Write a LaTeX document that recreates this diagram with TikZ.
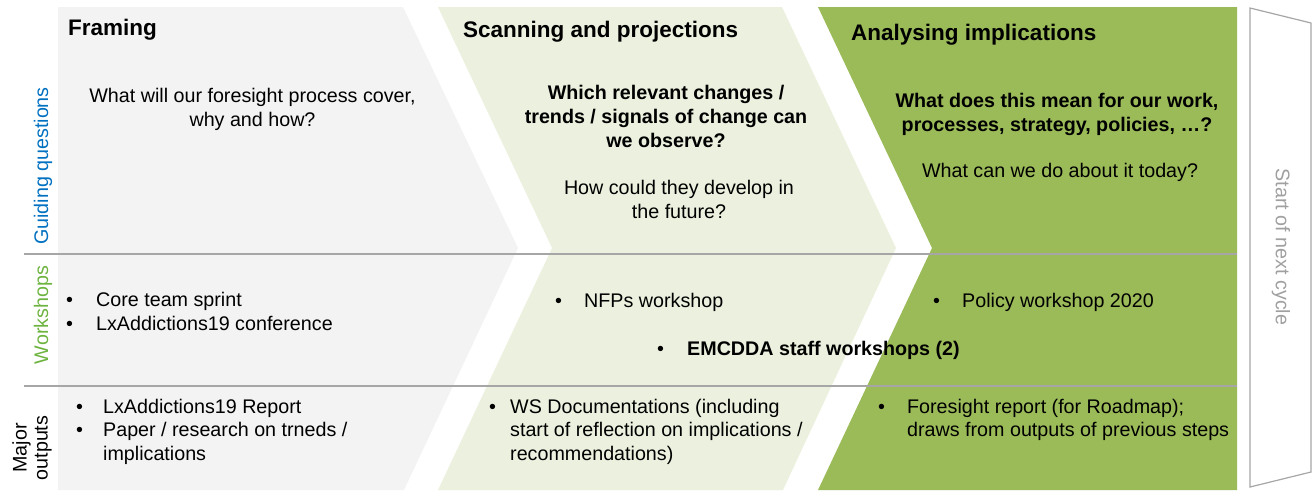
\documentclass[tikz,border=0pt]{standalone}
\usepackage{fontspec}
\setmainfont{Liberation Sans}
\definecolor{framegray}{HTML}{F3F3F3}
\definecolor{scangreen}{HTML}{EBF1DE}
\definecolor{anagreen}{HTML}{9BBB59}
\definecolor{qblue}{HTML}{0070C0}
\definecolor{wsgreen}{HTML}{6DB33F}
\definecolor{rulegray}{HTML}{A6A6A6}
\definecolor{cyclegray}{HTML}{A0A0A0}
\newcommand\bul[1][29pt]{\makebox[#1][l]{•}}
\begin{document}
\begin{tikzpicture}[x=1pt,y=-1pt,
  title/.style={font=\fontsize{22.5}{27}\selectfont\bfseries, anchor=base west, inner sep=0pt},
  body/.style={font=\fontsize{19.7}{23.5}\selectfont, inner sep=0pt, align=center, anchor=base},
  boldbody/.style={body, font=\fontsize{19.7}{24}\selectfont\bfseries},
  items/.style={font=\fontsize{19.7}{23.5}\selectfont, inner sep=0pt, align=left, anchor=base west},
  rowlab/.style={font=\fontsize{19.7}{21}\selectfont, rotate=90, inner sep=0pt, align=center},
  rule/.style={draw=rulegray, line width=1.2pt}]
\useasboundingbox (0,0) rectangle (1316,491);

% phase shapes
\fill[framegray] (58,7) -- (403,7) -- (518,248) -- (404,490) -- (58,490) -- cycle;
\fill[scangreen] (438,7) -- (782,7) -- (896,248) -- (783,490) -- (438,490) -- (552,248) -- cycle;
\fill[anagreen] (818,7) -- (1237,7) -- (1237,490) -- (818,490) -- (932,248) -- cycle;

% start of next cycle
\draw[draw=rulegray, line width=1.2pt] (1250,8) -- (1311,23) -- (1311,472) -- (1250,487) -- cycle;
\node[font=\fontsize{19.7}{23}\selectfont, text=cyclegray, rotate=-90, inner sep=0pt] (cycle) at (1281,247) {Start of next cycle};

% row rules
\draw[rule] (24,254) -- (1237,254);
\draw[rule] (24,386) -- (1237,386);

% row labels
\node[rowlab, text=qblue] (lq) at (43,166) {Guiding questions};
\node[rowlab, text=wsgreen] (lw) at (43,315) {Workshops};
\node[rowlab] (lo) at (32,448) {Major\\outputs};

% titles
\node[title] (t1) at (68,35) {Framing};
\node[title] (t2) at (463,37) {Scanning and projections};
\node[title] (t3) at (851,40) {Analysing implications};

% guiding questions (base anchor = last line's baseline)
\node[body] (q1) at (252.5,126) {What will our foresight process cover,\\why and how?};
\node[boldbody] (q2a) at (666,147) {Which relevant changes /\\trends / signals of change can\\we observe?};
\node[body] (q2b) at (679,218) {How could they develop in\\the future?};
\node[boldbody] (q3a) at (1057,131) {What does this mean for our work,\\processes, strategy, policies, …?};
\node[body] (q3b) at (1060,177) {What can we do about it today?};

% workshops
\node[items] (w1) at (66,330) {\bul[30pt]Core team sprint\\\bul[30pt]LxAddictions19 conference};
\node[items] (w2) at (555,307) {\bul[29pt]NFPs workshop};
\node[items] (w3) at (933,307) {\bul[29pt]Policy workshop 2020};
\node[items] (w4) at (657,355) {\bul[30pt]\textbf{EMCDDA staff workshops (2)}};

% outputs
\node[items] (o1) at (76,460) {\bul[27pt]LxAddictions19 Report\\\bul[27pt]Paper / research on trneds /\\\hspace*{27pt}implications};
\node[items] (o2) at (489,460) {\bul[21pt]WS Documentations (including\\\hspace*{21pt}start of reflection on implications /\\\hspace*{21pt}recommendations)};
\node[items] (o3) at (878,436.5) {\bul[29pt]Foresight report (for Roadmap);\\\hspace*{29pt}draws from outputs of previous steps};
\end{tikzpicture}
\end{document}
